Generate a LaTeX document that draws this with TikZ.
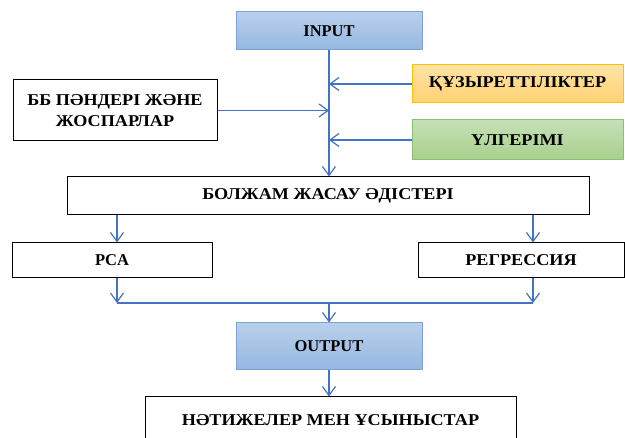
\documentclass[tikz,border=0pt]{standalone}
\usepackage{fontspec}
\setmainfont{Liberation Serif}
\newfontfamily\widefont[FakeStretch=1.1]{Liberation Serif}
\usetikzlibrary{arrows.meta}
\definecolor{flow}{HTML}{4472C4}
\definecolor{blueedge}{HTML}{7BA1D7}
\definecolor{bluetop}{HTML}{B9CFEB}
\definecolor{bluebot}{HTML}{95B8E2}
\definecolor{orangeedge}{HTML}{FFC000}
\definecolor{orangetop}{HTML}{FFE3A6}
\definecolor{orangebot}{HTML}{FFD172}
\definecolor{greenedge}{HTML}{8CBF73}
\definecolor{greentop}{HTML}{C5E0B6}
\definecolor{greenbot}{HTML}{A8D08D}
\tikzset{
  x=1pt, y=-1pt,
  box/.style={draw, rectangle, line width=1pt, align=center, inner sep=0pt,
    font=\fontsize{16.5}{21}\selectfont\bfseries},
  wide/.style={font=\widefont\fontsize{16.5}{21}\selectfont\bfseries},
  plainbox/.style={box, draw=black, fill=white},
  bluebox/.style={box, draw=blueedge, top color=bluetop, bottom color=bluebot},
  orangebox/.style={box, draw=orangeedge, top color=orangetop, bottom color=orangebot},
  greenbox/.style={box, draw=greenedge, top color=greentop, bottom color=greenbot},
  link/.style={draw=flow, line width=1.2pt},
  arr/.style={link, -{Straight Barb[length=9pt,width=13pt,line width=1.2pt]}},
}
\begin{document}
\begin{tikzpicture}
\clip (0,0) rectangle (625,438);

% input side
\node[bluebox, minimum width=186, minimum height=38] (inp) at (329,31) {INPUT};
\node[orangebox, wide, minimum width=211, minimum height=38] (comp) at (517.5,84) {ҚҰЗЫРЕТТІЛІКТЕР};
\node[greenbox, wide, minimum width=211, minimum height=40] (perf) at (517.5,140) {ҮЛГЕРІМІ};
\node[plainbox, wide, minimum width=204, minimum height=61] (plans) at (115,110.5) {ББ ПӘНДЕРІ ЖӘНЕ\\ЖОСПАРЛАР};

% methods
\node[plainbox, wide, minimum width=522, minimum height=38] (meth) at (328,196) {БОЛЖАМ ЖАСАУ ӘДІСТЕРІ};
\node[plainbox, minimum width=200, minimum height=35] (pca) at (112,260.5) {PCA};
\node[plainbox, wide, minimum width=206, minimum height=35] (reg) at (521,260.5) {РЕГРЕССИЯ};

% output side
\node[bluebox, minimum width=186, minimum height=47] (out) at (329,346.5) {OUTPUT};
\node[plainbox, wide, minimum width=371, minimum height=46] (res) at (330.5,420) {НӘТИЖЕЛЕР МЕН ҰСЫНЫСТАР};

% helper points for the branches
\coordinate (lx) at (117,0);
\coordinate (rx) at (533,0);
\coordinate (mid) at (329,303);
\coordinate (ml) at (117,303);
\coordinate (mr) at (533,303);

% main input line
\draw[arr] (inp.south) -- (inp.south |- meth.north);
\draw[arr] (comp.west) -- (comp.west -| inp.south);
\draw[arr] (perf.west) -- (perf.west -| inp.south);
\draw[arr] (plans.east) -- (plans.east -| inp.south);

% split to the methods
\draw[arr] (meth.south -| lx) -- (pca.north -| lx);
\draw[arr] (meth.south -| rx) -- (reg.north -| rx);

% merge back
\draw[arr] (pca.south -| lx) -- (ml);
\draw[arr] (reg.south -| rx) -- (mr);
\draw[link] (ml) -- (mr);
\draw[arr] (mid) -- (out.north);
\draw[arr] (out.south) -- (res.north -| out.south);
\end{tikzpicture}
\end{document}
